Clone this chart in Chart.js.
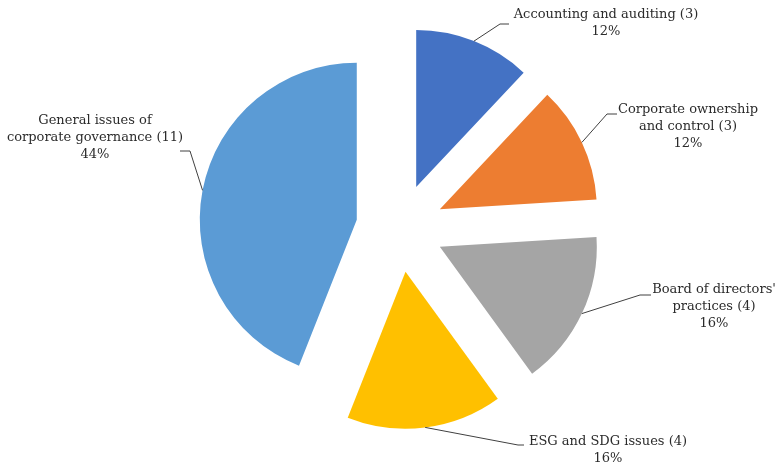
<!DOCTYPE html>
<html>
<head>
<meta charset="utf-8">
<script src="https://cdn.jsdelivr.net/npm/chart.js@4"></script>
<style>
  html, body { margin: 0; padding: 0; background: #fff; }
  canvas { display: block; }
</style>
</head>
<body>
<canvas id="pieChart" width="777" height="470"></canvas>
<script>
// categories, split the way the labels wrap
const categoryLines = [
  ["Accounting and auditing"],
  ["Corporate ownership", "and control"],
  ["Board of directors'", "practices"],
  ["ESG and SDG issues"],
  ["General issues of", "corporate governance"]
];
const counts = [3, 3, 4, 4, 11];
const sliceColors = ["#4472C4", "#ED7D31", "#A5A5A5", "#FFC000", "#5B9BD5"];

// label placement: elbow of the leader line, end of leader, text centre x, first line y
const labelLayout = [
  { elbow: [500, 24], end: [509, 24], x: 606, y: 15 },
  { elbow: [607, 114], end: [617, 114], x: 688, y: 110 },
  { elbow: [640, 295], end: [651, 295], x: 714, y: 290 },
  { elbow: [518, 445], end: [524, 445], x: 608, y: 442 },
  { elbow: [190, 151], end: [180, 151], x: 95, y: 121 }
];

const EXPLODE = 44;
const total = counts.reduce((a, b) => a + b, 0);

function labelText(i) {
  const lines = categoryLines[i].slice();
  lines[lines.length - 1] += " (" + counts[i] + ")";
  lines.push(Math.round(counts[i] / total * 100) + "%");
  return lines;
}

// push every slice out along its own bisector
const explodePlugin = {
  id: "explode",
  beforeDatasetDraw(chart, args) {
    args.meta.data.forEach(arc => {
      const mid = (arc.startAngle + arc.endAngle) / 2;
      arc._home = [arc.x, arc.y];
      arc.x += Math.cos(mid) * EXPLODE;
      arc.y += Math.sin(mid) * EXPLODE;
    });
  },
  afterDatasetDraw(chart, args) {
    args.meta.data.forEach(arc => {
      if (arc._home) { arc.x = arc._home[0]; arc.y = arc._home[1]; }
    });
  }
};

const calloutPlugin = {
  id: "callouts",
  afterDatasetsDraw(chart) {
    const ctx = chart.ctx;
    const arcs = chart.getDatasetMeta(0).data;
    ctx.save();
    arcs.forEach((arc, i) => {
      const mid = (arc.startAngle + arc.endAngle) / 2;
      const cx = arc.x + Math.cos(mid) * EXPLODE;
      const cy = arc.y + Math.sin(mid) * EXPLODE;
      const ax = cx + Math.cos(mid) * arc.outerRadius;
      const ay = cy + Math.sin(mid) * arc.outerRadius;
      const lay = labelLayout[i];
      ctx.strokeStyle = "#404040";
      ctx.lineWidth = 1;
      ctx.beginPath();
      ctx.moveTo(ax, ay);
      ctx.lineTo(lay.elbow[0], lay.elbow[1]);
      ctx.lineTo(lay.end[0], lay.end[1]);
      ctx.stroke();

      ctx.fillStyle = "#2b2b2b";
      ctx.font = "13px 'DejaVu Serif', serif";
      ctx.textAlign = "center";
      ctx.textBaseline = "middle";
      labelText(i).forEach((line, k) => {
        ctx.fillText(line, lay.x, lay.y + k * 17);
      });
    });
    ctx.restore();
  }
};

new Chart(document.getElementById("pieChart"), {
  type: "pie",
  data: {
    labels: categoryLines.map(l => l.join(" ")),
    datasets: [{
      data: counts,
      backgroundColor: sliceColors,
      borderWidth: 0
    }]
  },
  options: {
    responsive: false,
    animation: false,
    events: [],
    radius: 157,
    layout: { padding: { left: 23, right: 0, top: 0, bottom: 14 } },
    plugins: {
      legend: { display: false },
      tooltip: { enabled: false }
    }
  },
  plugins: [explodePlugin, calloutPlugin]
});
</script>
</body>
</html>
